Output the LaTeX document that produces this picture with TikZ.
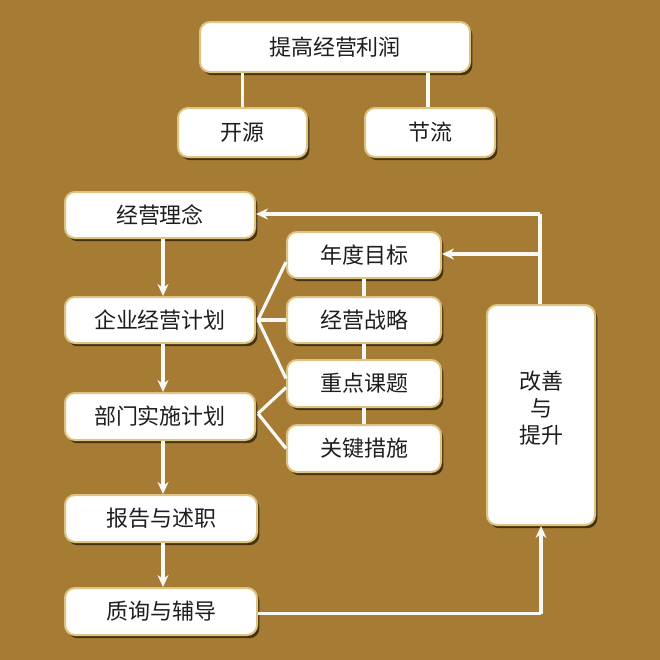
\documentclass[tikz,border=0pt]{standalone}
\usepackage{fontspec}
\newfontfamily\cjk{Noto Sans CJK SC}
\usetikzlibrary{shadows,arrows.meta,calc}
\definecolor{bg}{RGB}{166,124,52}
\definecolor{rim}{RGB}{222,196,130}
\definecolor{shade}{RGB}{70,50,15}
\definecolor{txt}{RGB}{30,30,30}
\definecolor{ln}{RGB}{248,248,244}
\tikzset{
  box/.style={rectangle, rounded corners=5pt, draw=rim, line width=1pt,
    fill=white,
    drop shadow={shadow xshift=1.2pt, shadow yshift=-1.6pt, fill=shade, opacity=1},
    inner sep=0pt, text=txt, font=\cjk\fontsize{11}{13.5}\selectfont, align=center},
  conn/.style={draw=ln, line width=1.6pt},
  arr/.style={conn, -{Stealth[length=6pt, width=5.5pt, fill=ln]}},
}
\begin{document}
\begin{tikzpicture}[x=0.5pt, y=-0.5pt]
\fill[bg] (0,0) rectangle (660,660);
\useasboundingbox (0,0) rectangle (660,660);
% nodes
\node[box, minimum width=135pt, minimum height=25pt] (top) at (335,47) {提高经营利润};
\node[box, minimum width=64.5pt, minimum height=24.5pt] (ky) at (242.5,132.5) {开源};
\node[box, minimum width=65pt, minimum height=24.5pt] (jl) at (430,132.5) {节流};
\node[box, minimum width=95pt, minimum height=23pt] (ln1) at (160,215) {经营理念};
\node[box, minimum width=95pt, minimum height=23pt] (qy) at (160,320) {企业经营计划};
\node[box, minimum width=95pt, minimum height=23.5pt] (bm) at (160,416.5) {部门实施计划};
\node[box, minimum width=96pt, minimum height=23.5pt] (bg1) at (161,518.5) {报告与述职};
\node[box, minimum width=96pt, minimum height=23.5pt] (zx) at (161,611.5) {质询与辅导};
\node[box, minimum width=77pt, minimum height=23pt] (nd) at (364,255) {年度目标};
\node[box, minimum width=77pt, minimum height=23pt] (zl) at (364,320) {经营战略};
\node[box, minimum width=77pt, minimum height=23.5pt] (kt) at (364,383.5) {重点课题};
\node[box, minimum width=77pt, minimum height=23.5pt] (cs) at (364,448.5) {关键措施};
\node[box, minimum width=54pt, minimum height=110pt] (gs) at (541,415) {改善\\与\\提升\\[-5.5pt]};
% top tree
\draw[conn] (top.south -| ky.north) -- (ky.north);
\draw[conn] ($(top.south -| jl.north)+(-2,0)$) -- ($(jl.north)+(-2,0)$);
% left column
\draw[arr] ($(ln1.south)+(3,0)$) -- ($(qy.north)+(3,0)$);
\draw[arr] ($(qy.south)+(3,0)$) -- ($(bm.north)+(3,0)$);
\draw[arr] ($(bm.south)+(3,0)$) -- ($(bg1.north)+(2,0)$);
\draw[arr] ($(bg1.south)+(2,0)$) -- ($(zx.north)+(2,0)$);
% fan-out
\coordinate (qe) at ($(qy.east)+(2,0)$);
\coordinate (be) at ($(bm.east)+(2,-3)$);
\draw[conn] (qe) -- ($(nd.west)+(0,7)$);
\draw[conn] (qe) -- (zl.west);
\draw[conn] (qe) -- ($(kt.west)+(0,-5)$);
\draw[conn] (be) -- ($(kt.west)+(0,4)$);
\draw[conn] (be) -- (cs.west);
% right column links
\draw[conn] (nd.south) -- (zl.north);
\draw[conn] (zl.south) -- (kt.north);
\draw[conn] (kt.south) -- (cs.north);
% feedback
\coordinate (c1) at ($(gs.north)+(-1,-90)$);
\coordinate (c2) at ($(gs.north)+(-1,-50)$);
\draw[conn] ($(gs.north)+(-1,0)$) -- (c1);
\draw[arr] (c1) -- (c1 -| ln1.east);
\draw[arr] (c2) -- (c2 -| nd.east);
\coordinate (c3) at ($(zx.east)+(0,2)$);
\coordinate (c4) at (c3 -| gs.south);
\draw[conn] (c3) -- (c4);
\draw[arr] (c4) -- (gs.south);
\end{tikzpicture}
\end{document}
